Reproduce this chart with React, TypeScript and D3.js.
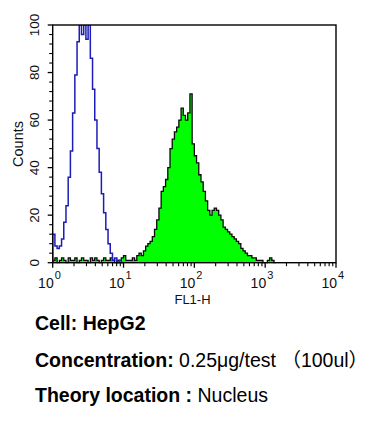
import React from "react";
import * as d3 from "d3";

// Histogram channels: 128 bins spanning 4 log decades (10^0 .. 10^4)
const BIN_COUNT = 128;
const DECADES = [1, 10, 100, 1000, 10000];
const Y_TICKS = [0, 20, 40, 60, 80, 100];

// Isotype control (blue outline)
const blueCounts = [
  12, 7, 6, 7, 10, 17, 24, 36, 47, 63, 79, 93, 100, 96, 100, 94,
  100, 86, 73, 60, 48, 38, 29, 21, 14, 8, 4, 1, 2, 0, 1, 0,
];

// Stained sample (green filled)
const greenCounts = [
  1, 2, 0, 1, 2, 1, 0, 2, 1, 1, 2, 0, 1, 2, 1, 1,
  0, 2, 1, 2, 1, 0, 1, 2, 1, 1, 2, 1, 0, 1, 1, 2,
  3, 1, 1, 1, 2, 1, 3, 4, 3, 5, 7, 8, 9, 11, 14, 18,
  23, 30, 32, 35, 40, 48, 52, 55, 57, 60, 65, 62, 60, 63, 71, 50,
  45, 42, 37, 34, 30, 26, 22, 20, 22, 23, 22, 20, 18, 15, 14, 13,
  12, 11, 10, 9, 8, 6, 5, 4, 3, 3, 2, 2, 1, 1, 1, 0,
  0, 1, 2, 1, 0,
];

const texts = {
  cellLabel: "Cell: ",
  cellValue: "HepG2",
  concLabel: "Concentration:",
  concValue: " 0.25μg/test （100ul）",
  locLabel: "Theory location :",
  locValue: " Nucleus",
};

const W = 375;
const H = 430;
const left = 52.7;
const right = 336;
const top = 25;
const bottom = 262.7;

const FONT = "'Liberation Sans', Arial, 'Noto Sans CJK SC', sans-serif";

function channelValue(i: number) {
  return Math.pow(10, (i * 4) / BIN_COUNT);
}

export default function App() {
  const x = d3.scaleLog().domain([1, 10000]).range([left, right]);
  const y = d3.scaleLinear().domain([0, 100]).range([bottom, top]);

  const toPoints = (counts: number[]) => {
    const pts: [number, number][] = [[channelValue(0), 0]];
    counts.forEach((c, i) => pts.push([channelValue(i), c]));
    pts.push([channelValue(counts.length), 0]);
    return pts;
  };

  const greenPts = toPoints(greenCounts);
  const bluePts = toPoints(blueCounts);

  const area = d3
    .area<[number, number]>()
    .x((d) => x(d[0]))
    .y0(y(0))
    .y1((d) => y(Math.min(d[1], 100)))
    .curve(d3.curveStepAfter);
  const line = d3
    .line<[number, number]>()
    .x((d) => x(d[0]))
    .y((d) => y(Math.min(d[1], 100)))
    .curve(d3.curveStepAfter);

  const minorX: number[] = [];
  for (let d = 0; d < 4; d++) {
    for (let k = 2; k <= 9; k++) minorX.push(k * Math.pow(10, d));
  }
  const minorY = d3.range(0, 101, 4).filter((v) => v % 20 !== 0);

  return (
    <svg
      width={W}
      height={H}
      style={{ position: "absolute", left: 0, top: 0, background: "#fff" }}
      fontFamily={FONT}
    >
      <rect x={0} y={0} width={W} height={H} fill="#fff" />
      <defs>
        <clipPath id="plotClip">
          <rect x={left} y={top} width={right - left} height={bottom - top + 1} />
        </clipPath>
      </defs>
      <g clipPath="url(#plotClip)">
        <path d={area(greenPts) || ""} fill="#00ff00" stroke="none" />
        <path d={line(greenPts) || ""} fill="none" stroke="#0a0a0a" strokeWidth={1.3} />
        <path d={line(bluePts) || ""} fill="none" stroke="#1c1cb8" strokeWidth={1.5} />
      </g>
      <rect
        x={left}
        y={top}
        width={right - left}
        height={bottom - top}
        fill="none"
        stroke="#000"
        strokeWidth={1.4}
      />
      {/* x ticks */}
      {DECADES.map((v) => (
        <line key={"xM" + v} x1={x(v)} x2={x(v)} y1={bottom} y2={bottom + 5} stroke="#000" strokeWidth={1.3} />
      ))}
      {minorX.map((v) => (
        <line key={"xm" + v} x1={x(v)} x2={x(v)} y1={bottom} y2={bottom + 3.5} stroke="#000" strokeWidth={1.1} />
      ))}
      {DECADES.map((v, i) => (
        <g key={"xl" + v} fill="#111">
          <text x={x(v) + 1} y={287.5} fontSize={14} textAnchor="end">
            10
          </text>
          <text x={x(v) + 2} y={278.5} fontSize={11} textAnchor="start">
            {i}
          </text>
        </g>
      ))}
      <text x={192.5} y={304} fontSize={13} textAnchor="middle" fill="#111">
        FL1-H
      </text>
      {/* y ticks */}
      {Y_TICKS.map((v) => (
        <line key={"yM" + v} x1={left - 5} x2={left} y1={y(v)} y2={y(v)} stroke="#000" strokeWidth={1.3} />
      ))}
      {minorY.map((v) => (
        <line key={"ym" + v} x1={left - 3.5} x2={left} y1={y(v)} y2={y(v)} stroke="#000" strokeWidth={1.1} />
      ))}
      {Y_TICKS.map((v) => (
        <text
          key={"yl" + v}
          transform={`translate(38.5,${y(v)}) rotate(-90)`}
          fontSize={13.5}
          textAnchor="middle"
          fill="#111"
        >
          {v}
        </text>
      ))}
      <text
        transform={`translate(22.5,144) rotate(-90)`}
        fontSize={14.5}
        textAnchor="middle"
        fill="#111"
      >
        Counts
      </text>
      {/* annotations */}
      <text x={35} y={330} fontSize={19.5} fill="#000">
        <tspan fontWeight="bold">{texts.cellLabel}</tspan>
        <tspan fontWeight="bold">{texts.cellValue}</tspan>
      </text>
      <text x={35} y={366.5} fontSize={19.5} fill="#000">
        <tspan fontWeight="bold">{texts.concLabel}</tspan>
        <tspan>{texts.concValue}</tspan>
      </text>
      <text x={35} y={401.5} fontSize={19.5} fill="#000">
        <tspan fontWeight="bold">{texts.locLabel}</tspan>
        <tspan>{texts.locValue}</tspan>
      </text>
    </svg>
  );
}
